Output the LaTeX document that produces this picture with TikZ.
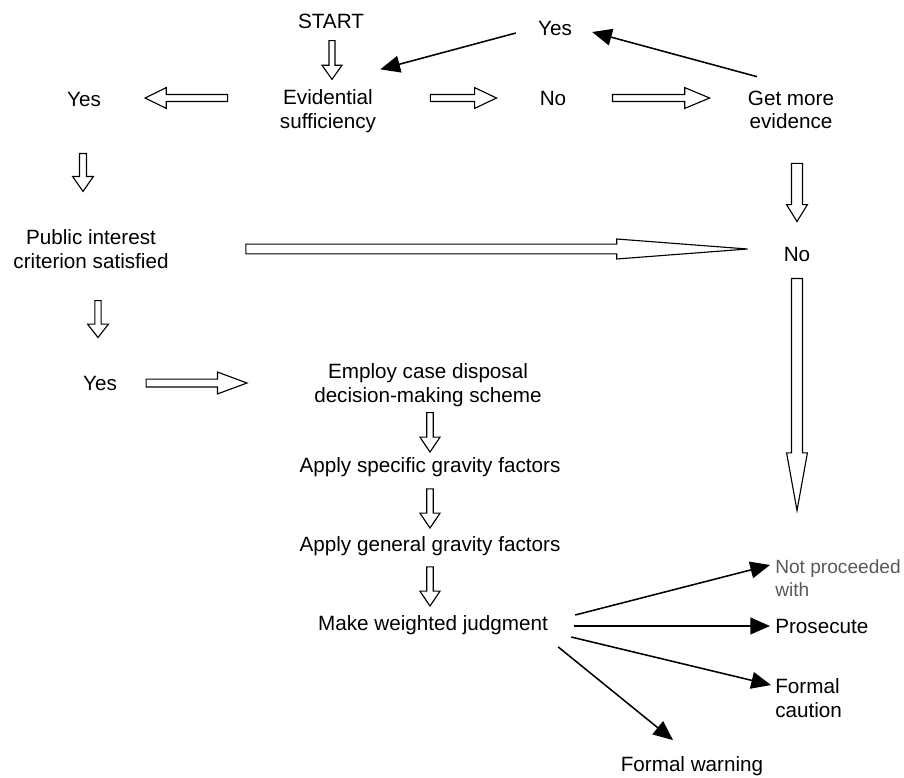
\documentclass[tikz,border=0pt]{standalone}
\usepackage{fontspec}
\setmainfont{Liberation Sans}
\usetikzlibrary{arrows.meta, calc}
\tikzset{
  txt/.style={font=\fontsize{14.7}{16.7}\selectfont, align=center, inner sep=0pt},
  pointer/.style={line width=1.1pt, -{Triangle[length=14pt,width=12pt]}},
  hollow/.style args={#1/#2/#3}{draw, fill=white, line width=.8pt, line join=miter,
    to path={(\tikztostart) coordinate (ha) (\tikztotarget) coordinate (hb)
      ($(ha)!#1!90:(hb)$) -- ($(hb)!#3!(ha)!#1!90:(hb)$) -- ($(hb)!#3!(ha)!#2!90:(hb)$)
      -- (hb) -- ($(hb)!#3!(ha)!#2!-90:(hb)$) -- ($(hb)!#3!(ha)!#1!-90:(hb)$)
      -- ($(ha)!#1!-90:(hb)$) -- cycle}}
}

\begin{document}
\begin{tikzpicture}[x=0.025cm, y=-0.025cm]
        \useasboundingbox (0,0) rectangle (904,778);
        \node[txt] (start) at (331,21) {START};
        \node[txt] (yesT) at (555,28) {Yes};
        \node[txt] (yesL) at (84,99) {Yes};
        \node[txt] (evid) at (328,111) {Evidential\\sufficiency};
        \node[txt] (noT) at (553,98) {No};
        \node[txt] (more) at (791,110) {Get more\\evidence};
        \node[txt] (pub) at (91,249) {Public interest\\criterion satisfied};
        \node[txt] (noR) at (797,254) {No};
        \node[txt] (yesM) at (100,383) {Yes};
        \node[txt] (scheme) at (428,385) {Employ case disposal\\decision-making scheme};
        \node[txt] (spec) at (430,467) {Apply specific gravity factors};
        \node[txt] (gen) at (430,546) {Apply general gravity factors};
        \node[txt] (judge) at (433,625) {Make weighted judgment};
        \node[txt, anchor=west, align=left, text=black!65, font=\fontsize{13.6}{16.5}\selectfont] (npw) at (775,578.5) {Not proceeded\\with};
        \node[txt, anchor=west] (pros) at (775,626) {Prosecute};
        \node[txt, anchor=west, align=left] (caution) at (775,698) {Formal\\caution};
        \node[txt] (warn) at (692,766) {Formal warning};
        \draw[hollow=2.1pt/7.1pt/10pt] ($(start.south)+(1,12)$) to ($(start.south |- evid.north)+(1,-10)$);
        \draw[hollow=2.5pt/7.4pt/15pt] ($(evid.west |- yesL.east)+(-52,-1)$) to ($(yesL.east)+(44,-1)$);
        \draw[hollow=2.5pt/7.4pt/15.6pt] ($(evid.east |- noT.west)+(54,0)$) to ($(noT.west)+(-43,0)$);
        \draw[hollow=2.5pt/7.4pt/17.7pt] ($(noT.east)+(46,0)$) to ($(more.west |- noT.east)+(-38,0)$);
        \draw[hollow=2.5pt/7.4pt/10.6pt] ($(yesL.south)+(-1,47)$) to ($(yesL.south |- pub.north)+(-1,-38)$);
        \draw[hollow=3.9pt/7.4pt/12pt] ($(noR.north |- more.south)+(0,34)$) to ($(noR.north)+(0,-25)$);
        \draw[hollow=3.5pt/7.1pt/93pt] ($(pub.east)+(77,0)$) to ($(noR.west |- pub.east)+(-36,0)$);
        \draw[hollow=2.2pt/7.4pt/9.5pt] ($(yesM.north |- pub.south)+(-2,32)$) to ($(yesM.north)+(-2,-38)$);
        \draw[hollow=2.8pt/7.8pt/21pt] ($(yesM.east)+(29,0)$) to ($(scheme.west |- yesM.east)+(-67,0)$);
        \draw[hollow=2.3pt/7.1pt/10.6pt] ($(spec.north |- scheme.south)+(0,6)$) to ($(spec.north)+(0,-5)$);
        \draw[hollow=2.3pt/7.1pt/10.6pt] ($(spec.south)+(0,12)$) to ($(gen.north)+(0,-8)$);
        \draw[hollow=2.3pt/7.1pt/10.6pt] ($(gen.south)+(0,11)$) to ($(gen.south |- judge.north)+(0,-9)$);
        \draw[hollow=3.9pt/7.4pt/41pt] ($(noR.south)+(0,17)$) to ($(noR.south)+(0,249)$);
        \draw[pointer] ($(yesT.west)+(-22,5)$) -- ($(evid.north east)+(4,-20)$);
        \draw[pointer] ($(more.north)+(-34,-14)$) -- ($(yesT.east)+(20,4)$);
        \draw[pointer] ($(judge.east)+(27,-10)$) -- ($(npw.west)+(-5,-13.5)$);
        \draw[pointer] ($(judge.east |- pros.west)+(26,0)$) -- ($(pros.west)+(-5,0)$);
        \draw[pointer] ($(judge.east)+(23,12)$) -- ($(caution.west)+(-4,-13)$);
        \draw[pointer] ($(judge.south east)+(10,12)$) -- ($(warn.north)+(-19,-16)$);
\end{tikzpicture}
\end{document}
